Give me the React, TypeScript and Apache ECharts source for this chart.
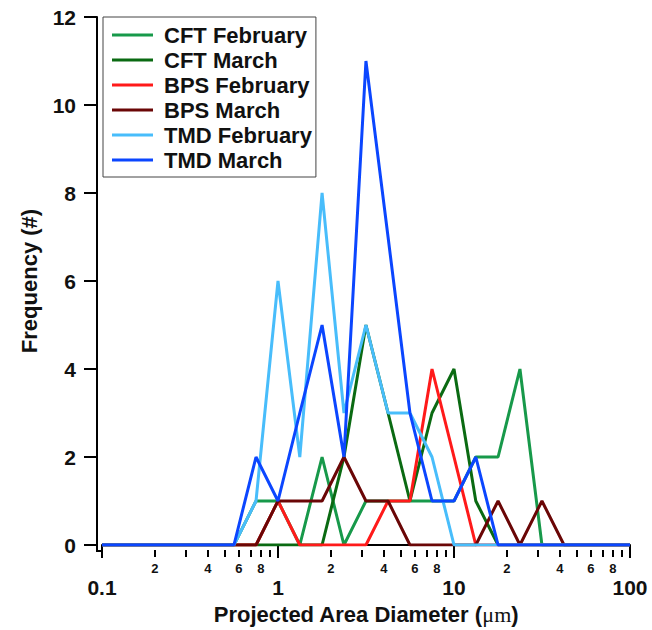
import React, { useEffect, useRef } from "react";
import * as echarts from "echarts";

// Bin centres (projected area diameter, µm)
const binCenters = [
  0.1, 0.133, 0.178, 0.237, 0.316, 0.422, 0.562, 0.75, 1, 1.33, 1.78, 2.37, 3.16,
  4.22, 5.62, 7.5, 10, 13.3, 17.8, 23.7, 31.6, 42.2, 56.2, 75, 100,
];

// Frequencies per bin
const cftFebruary = [0, 0, 0, 0, 0, 0, 0, 1, 1, 0, 2, 0, 1, 1, 1, 1, 1, 2, 2, 4, 0, 0, 0, 0, 0];
const cftMarch = [0, 0, 0, 0, 0, 0, 0, 0, 0, 0, 0, 2, 5, 3, 1, 3, 4, 1, 0, 0, 0, 0, 0, 0, 0];
const bpsFebruary = [0, 0, 0, 0, 0, 0, 0, 0, 1, 0, 0, 0, 0, 1, 1, 4, 2, 0, 0, 0, 0, 0, 0, 0, 0];
const bpsMarch = [0, 0, 0, 0, 0, 0, 0, 0, 1, 1, 1, 2, 1, 1, 0, 0, 0, 0, 1, 0, 1, 0, 0, 0, 0];
const tmdFebruary = [0, 0, 0, 0, 0, 0, 0, 1, 6, 2, 8, 3, 5, 3, 3, 2, 0, 0, 0, 0, 0, 0, 0, 0, 0];
const tmdMarch = [0, 0, 0, 0, 0, 0, 0, 2, 1, 3, 5, 2, 11, 7, 3, 1, 1, 2, 0, 0, 0, 0, 0, 0, 0];

const seriesNames = ["CFT February", "CFT March", "BPS February", "BPS March", "TMD February", "TMD March"];
const seriesValues = [cftFebruary, cftMarch, bpsFebruary, bpsMarch, tmdFebruary, tmdMarch];
const seriesColors = ["#17994a", "#0a6a12", "#ff1a1a", "#6a0606", "#48bdfb", "#0b46ff"];

// Axis ticks
const majorTickValues = [0.1, 1, 10, 100];
const majorTickLabels = ["0.1", "1", "10", "100"];
const minorTickValues = [
  0.2, 0.3, 0.4, 0.5, 0.6, 0.7, 0.8, 0.9,
  2, 3, 4, 5, 6, 7, 8, 9,
  20, 30, 40, 50, 60, 70, 80, 90,
];
const minorLabelValues = [0.2, 0.4, 0.6, 0.8, 2, 4, 6, 8, 20, 40, 60, 80];
const minorLabelTexts = ["2", "4", "6", "8", "2", "4", "6", "8", "2", "4", "6", "8"];

const yTicks = { min: 0, max: 12, interval: 2 };

const FONT = "Liberation Sans, Arial, sans-serif";

function nearestLabel(v: number, values: number[], labels: string[]) {
  let best = 0;
  let bestD = Infinity;
  values.forEach((x, i) => {
    const d = Math.abs(Math.log10(x) - Math.log10(v));
    if (d < bestD) {
      bestD = d;
      best = i;
    }
  });
  return labels[best];
}

export default function App() {
  const ref = useRef<HTMLDivElement>(null);

  useEffect(() => {
    if (!ref.current) return;
    const chart = echarts.init(ref.current, null, { renderer: "svg" });
    const option: any = {
      animation: false,
      backgroundColor: "#ffffff",
      grid: { left: 102, right: 22, top: 17, bottom: 84, containLabel: false },
      legend: {
        orient: "vertical",
        left: 103,
        top: 17,
        data: seriesNames,
        icon: "rect",
        itemWidth: 41,
        itemHeight: 3,
        itemGap: 3,
        padding: [7, 4, 6, 9],
        borderColor: "#444",
        borderWidth: 1,
        backgroundColor: "#fff",
        textStyle: {
          fontFamily: FONT,
          fontSize: 22,
          lineHeight: 22,
          fontWeight: "bold",
          color: "#111",
          padding: [0, 0, 0, 6],
        },
      },
      xAxis: [
        {
          type: "log",
          logBase: 10,
          min: 0.1,
          max: 100,
          position: "bottom",
          offset: 5,
          axisLine: { show: true, lineStyle: { color: "#000", width: 2 } },
          axisTick: {
            show: true,
            customValues: majorTickValues,
            length: 13,
            lineStyle: { color: "#000", width: 2 },
          },
          minorTick: { show: false },
          axisLabel: {
            customValues: majorTickValues,
            formatter: (v: number) => nearestLabel(v, majorTickValues, majorTickLabels),
            fontFamily: FONT,
            fontSize: 21,
            fontWeight: "bold",
            color: "#111",
            margin: 27,
            showMinLabel: true,
            showMaxLabel: true,
          },
          splitLine: { show: false },
          name: "Projected Area Diameter ({mu|μm})",
          nameLocation: "middle",
          nameGap: 53,
          nameTextStyle: {
            fontFamily: FONT,
            fontSize: 22,
            fontWeight: "bold",
            color: "#111",
            rich: {
              mu: { fontFamily: "Liberation Serif, serif", fontSize: 22, fontWeight: "normal", color: "#111" },
            },
          },
        },
        {
          type: "log",
          logBase: 10,
          min: 0.1,
          max: 100,
          position: "bottom",
          offset: 5,
          axisLine: { show: false },
          axisTick: {
            show: true,
            customValues: minorTickValues,
            length: 7,
            lineStyle: { color: "#000", width: 2 },
          },
          axisLabel: {
            customValues: minorLabelValues,
            formatter: (v: number) => nearestLabel(v, minorLabelValues, minorLabelTexts),
            fontFamily: FONT,
            fontSize: 13,
            fontWeight: "bold",
            color: "#111",
            margin: 12,
          },
          splitLine: { show: false },
        },
      ],
      yAxis: {
        type: "value",
        min: yTicks.min,
        max: yTicks.max,
        interval: yTicks.interval,
        offset: 5,
        axisLine: { show: true, lineStyle: { color: "#000", width: 2 } },
        axisTick: { show: true, length: 13, lineStyle: { color: "#000", width: 2 } },
        axisLabel: {
          fontFamily: FONT,
          fontSize: 21,
          fontWeight: "bold",
          color: "#111",
          margin: 21,
        },
        splitLine: { show: false },
        name: "Frequency (#)",
        nameLocation: "middle",
        nameGap: 57,
        nameTextStyle: { fontFamily: FONT, fontSize: 22, fontWeight: "bold", color: "#111" },
      },
      graphic: [
        { type: "line", shape: { x1: 97, y1: 545, x2: 97, y2: 552 }, style: { stroke: "#000", lineWidth: 2 } },
        { type: "line", shape: { x1: 96, y1: 551, x2: 103, y2: 551 }, style: { stroke: "#000", lineWidth: 2 } },
      ],
      series: seriesNames.map((name, i) => ({
        name,
        type: "line",
        xAxisIndex: 0,
        data: binCenters.map((x, j) => [x, seriesValues[i][j]]),
        showSymbol: false,
        symbol: "none",
        color: seriesColors[i],
        lineStyle: { color: seriesColors[i], width: 3 },
        z: 2 + i,
      })),
    };
    chart.setOption(option);
    return () => chart.dispose();
  }, []);

  return (
    <div
      ref={ref}
      style={{ position: "absolute", left: 0, top: 0, width: 652, height: 630 }}
    />
  );
}
